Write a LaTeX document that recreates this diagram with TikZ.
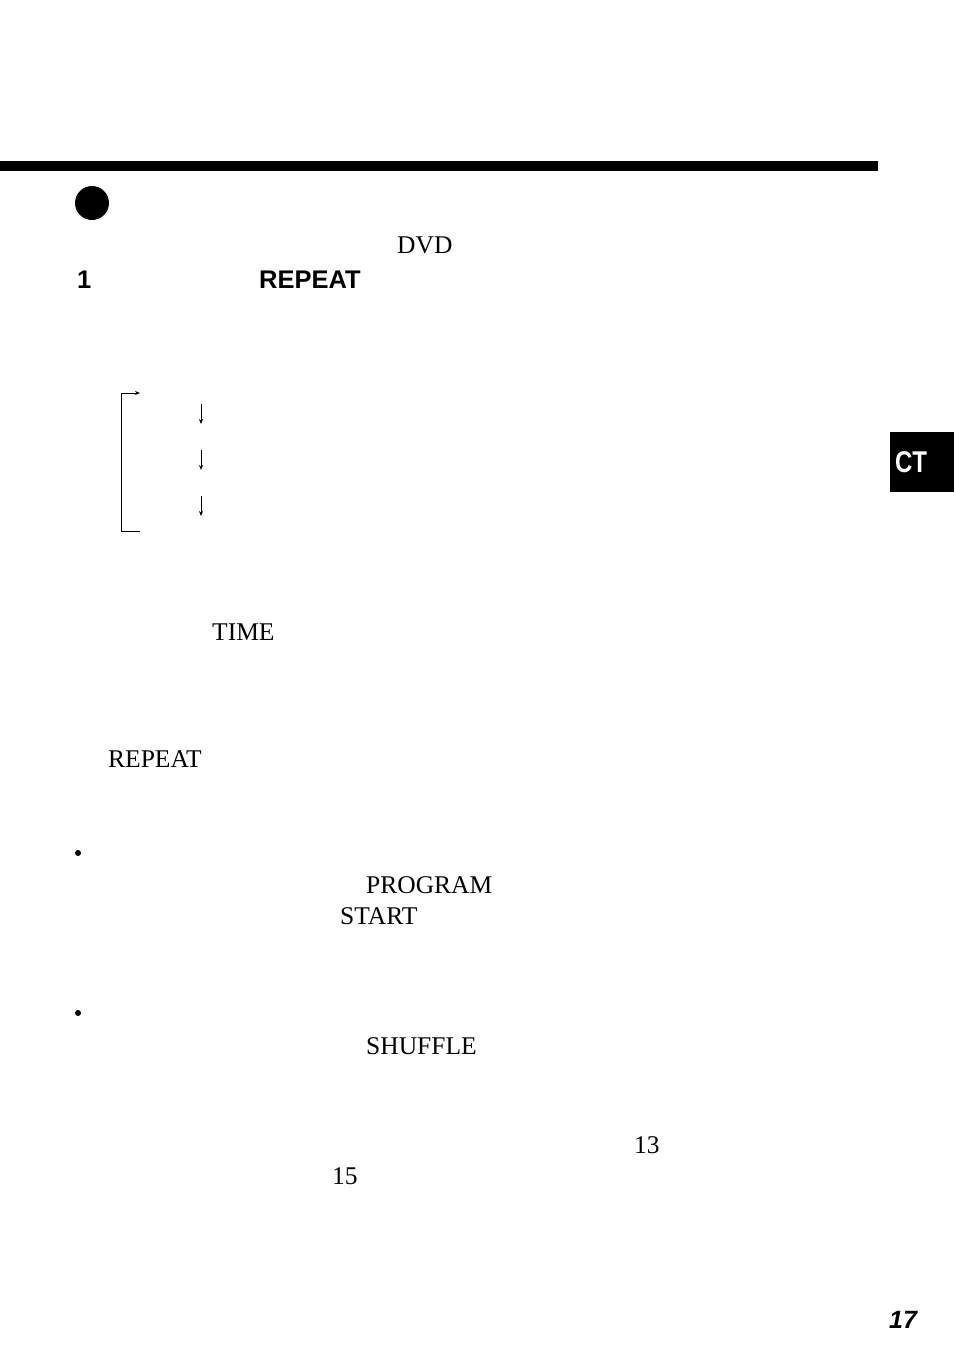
\documentclass[tikz,border=0pt]{standalone}
\usepackage{fontspec}
\setmainfont{Liberation Serif}
\newfontfamily\arialf{Liberation Sans}
\usetikzlibrary{arrows.meta}
\begin{document}
\begin{tikzpicture}[x=1pt,y=-1pt,
  txt/.style={anchor=west,inner sep=0pt,font=\fontsize{25.5}{28}\selectfont},
  btxt/.style={anchor=west,inner sep=0pt,font=\fontsize{25.5}{28}\selectfont\arialf\bfseries},
  darr/.style={-{Stealth[length=5pt,width=4pt]},line width=1pt}]
\useasboundingbox (0,0) rectangle (954,1357);
\fill (0,161) rectangle (878,171);
\fill (92,203) circle (17);
\node[txt] (dvd) at (397,245) {DVD};
\node[btxt] (one) at (77,280) {1};
\node[btxt] (rep) at (259,280) {REPEAT};
% bracket loop
\coordinate (bt) at (121,393);
\coordinate (bb) at (121,531);
\draw[line width=1pt] (140,531) -- (bb) -- (bt);
\draw[darr] (bt) -- (140,393);
\foreach \y in {404,450,496}{
  \coordinate (a\y) at (201,\y);
  \coordinate (b\y) at (201,\y+20);
  \draw[darr] (a\y) -- (b\y);
}
\fill (890,432) rectangle (954,492);
\node[inner sep=0pt,text=white,font=\fontsize{30}{32}\selectfont\arialf\bfseries,xscale=0.8] (ct) at (911,462) {CT};
\node[txt] (time) at (212,632) {TIME};
\node[txt] (rep2) at (108,759) {REPEAT};
\fill (78,853) circle (3);
\node[txt] (prog) at (366,885) {PROGRAM};
\node[txt] (start) at (340,916) {START};
\fill (78,1013) circle (3);
\node[txt] (shuf) at (366,1046) {SHUFFLE};
\node[txt] (n13) at (634,1145) {13};
\node[txt] (n15) at (332,1176) {15};
\node[inner sep=0pt,anchor=west,font=\fontsize{25}{28}\selectfont\arialf\bfseries\itshape] (pg) at (889,1320) {17};
\end{tikzpicture}
\end{document}
